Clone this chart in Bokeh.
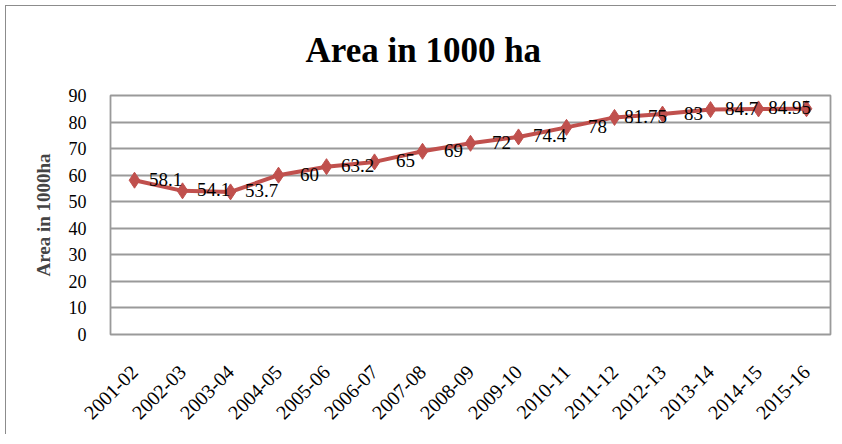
import math
from bokeh.plotting import figure
from bokeh.models import ColumnDataSource, Range1d, FixedTicker
from bokeh.embed import file_html
from bokeh.resources import INLINE
from bokeh.core.properties import value

years = ["2001-02", "2002-03", "2003-04", "2004-05", "2005-06", "2006-07", "2007-08",
         "2008-09", "2009-10", "2010-11", "2011-12", "2012-13", "2013-14", "2014-15", "2015-16"]
area = [58.1, 54.1, 53.7, 60, 63.2, 65, 69, 72, 74.4, 78, 81.75, 83, 84.7, 84.95, 85.0]
labels = ["58.1", "54.1", "53.7", "60", "63.2", "65", "69", "72", "74.4", "78", "81.75", "83",
          "84.7", "84.95", ""]
y_ticks = [0, 10, 20, 30, 40, 50, 60, 70, 80, 90]

p = figure(x_range=years, frame_width=720, frame_height=239, output_backend="svg",
           toolbar_location=None,
           min_border_left=104, min_border_right=6, min_border_top=89, min_border_bottom=100,
           background_fill_color="white", border_fill_color="white",
           styles={"margin-left": "5px", "margin-top": "5px",
                   "border-left": "1px solid #8c8c8c", "border-top": "1px solid #8c8c8c"})
p.y_range = Range1d(0, 90)

p.title.text = "Area in 1000 ha"
p.title.align = "left"
p.title.offset = 195
p.title.vertical_align = "top"
p.title.text_font = "Liberation Serif"
p.title.text_font_size = "35px"
p.title.text_font_style = "bold"
p.title.text_color = "black"
p.title.standoff = 47

src = ColumnDataSource(dict(x=years, y=area, lab=labels))
p.line("x", "y", source=src, line_color="#C0504D", line_width=4)
p.scatter("x", "y", source=src, marker="diamond", size=16, fill_color="#C0504D",
          line_color="#C0504D")
p.text("x", "y", text="lab", source=src, x_offset=31, y_offset=-1, text_align="center",
       text_baseline="middle", text_font=value("Liberation Serif"), text_font_size="19px",
       text_color="black")

p.yaxis.ticker = FixedTicker(ticks=y_ticks)
p.yaxis.axis_label = "Area in 1000ha"
p.yaxis.axis_label_text_font = "Liberation Serif"
p.yaxis.axis_label_text_font_style = "bold"
p.yaxis.axis_label_text_font_size = "19px"
p.yaxis.axis_label_standoff = 12
p.yaxis.major_label_text_font = "Liberation Serif"
p.yaxis.major_label_text_font_size = "18px"
p.yaxis.major_label_text_color = "black"
p.yaxis.major_tick_line_color = None
p.yaxis.minor_tick_line_color = None
p.yaxis.axis_line_color = "#9a9a9a"
p.yaxis.major_label_standoff = 18

p.xaxis.major_label_orientation = math.pi / 4
p.xaxis.major_label_text_font = "Liberation Serif"
p.xaxis.major_label_text_font_size = "20px"
p.xaxis.major_label_text_color = "black"
p.xaxis.major_tick_line_color = None
p.xaxis.axis_line_color = "#9a9a9a"
p.xaxis.major_label_standoff = 28

p.xgrid.grid_line_color = None
p.ygrid.grid_line_color = "#9a9a9a"
p.ygrid.grid_line_width = 1.8
p.outline_line_color = "#9a9a9a"
p.outline_line_width = 1.8

open("out.html", "w").write(file_html(p, INLINE))
